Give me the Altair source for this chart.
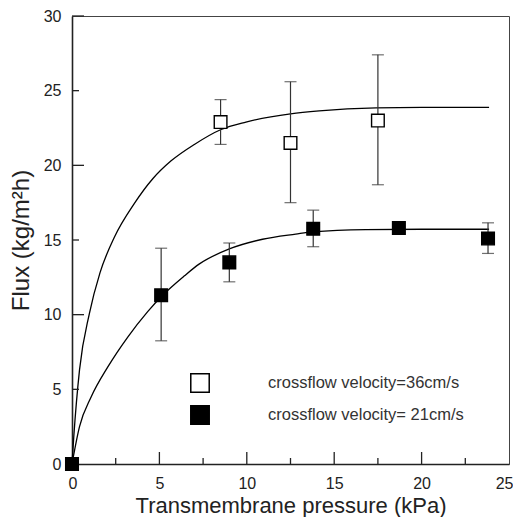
import altair as alt
import pandas as pd

# ---- data ----
open_x = [8.5, 12.5, 17.5]
open_y = [22.9, 21.5, 23.0]
open_lo = [21.4, 17.5, 18.7]
open_hi = [24.4, 25.6, 27.4]

fill_x = [0.0, 5.1, 9.0, 13.8, 18.7, 23.8]
fill_y = [0.0, 11.3, 13.5, 15.75, 15.8, 15.1]
fill_lo = [0.0, 8.25, 12.2, 14.55, 15.5, 14.1]
fill_hi = [0.0, 14.45, 14.8, 17.0, 16.2, 16.15]

upper_x = [0, 0.1, 0.43, 1.0, 1.6, 2.43, 3.57, 4.62, 5.67, 7.0, 8.53, 9.95, 12.5, 14.14, 17.4, 20.0, 23.86]
upper_y = [0, 1.8, 6.3, 10.1, 12.8, 15.2, 17.45, 19.1, 20.3, 21.4, 22.4, 22.9, 23.45, 23.65, 23.85, 23.88, 23.88]

lower_x = [0, 0.43, 1.1, 2.05, 3.19, 4.33, 5.1, 6.43, 7.29, 9.0, 10.9, 12.8, 13.76, 16.8, 20.0, 23.86]
lower_y = [0, 2.5, 4.5, 6.5, 8.5, 10.2, 11.2, 12.6, 13.4, 14.4, 15.05, 15.4, 15.55, 15.7, 15.72, 15.72]

series_labels = ["crossflow velocity=36cm/s", "crossflow velocity= 21cm/s"]

x_ticks = [0, 5, 10, 15, 20, 25]
y_ticks = [0, 5, 10, 15, 20, 25, 30]
x_major_inner = [5, 10, 15, 20]
x_minor_inner = [2.5, 7.5, 12.5, 17.5, 22.5]
y_major_inner = [10, 20, 30]
y_minor_inner = [5, 15, 25]

W, H = 437, 448
FONT = "Liberation Sans"
INK = "#222222"

# ---- tables ----
pts = pd.DataFrame({
    "x": open_x + fill_x,
    "y": open_y + fill_y,
    "lo": open_lo + fill_lo,
    "hi": open_hi + fill_hi,
    "series": [series_labels[0]] * len(open_x) + [series_labels[1]] * len(fill_x),
})
curves = pd.DataFrame({
    "x": upper_x + lower_x,
    "y": upper_y + lower_y,
    "curve": ["upper"] * len(upper_x) + ["lower"] * len(lower_x),
})

xs = alt.Scale(domain=[0, 25], nice=False)
ys = alt.Scale(domain=[0, 30], nice=False)

base_x = alt.X("x:Q", scale=xs, axis=alt.Axis(
    values=x_ticks, title="Transmembrane pressure (kPa)", grid=False, ticks=False,
    labelFontSize=16, labelPadding=11, labelColor=INK, labelFont=FONT,
    labelFlush=True, labelFlushOffset=4,
    titleFontSize=22, titleFontWeight="normal", titleColor=INK, titleFont=FONT,
    titleBaseline="alphabetic", titleY=48,
    domainColor=INK, domainWidth=1.6))
base_y = alt.Y("y:Q", scale=ys, axis=alt.Axis(
    values=y_ticks, title="Flux (kg/m²h)", grid=False, ticks=False,
    labelFontSize=16, labelPadding=11, labelColor=INK, labelFont=FONT,
    titleFontSize=24, titleFontWeight="normal", titleColor=INK, titleFont=FONT,
    titlePadding=10, domainColor=INK, domainWidth=1.6))

lines = alt.Chart(curves).mark_line(color="black", strokeWidth=1.3, interpolate="monotone").encode(
    x=base_x, y=base_y, detail="curve:N")

err = alt.Chart(pts).mark_rule(color="#333333", strokeWidth=1.2).encode(
    x=alt.X("x:Q", scale=xs), y=alt.Y("lo:Q", scale=ys), y2="hi:Q")
cap_lo = alt.Chart(pts).mark_tick(color="#333333", orient="horizontal", size=12, thickness=1.2).encode(
    x=alt.X("x:Q", scale=xs), y=alt.Y("lo:Q", scale=ys))
cap_hi = alt.Chart(pts).mark_tick(color="#333333", orient="horizontal", size=12, thickness=1.2).encode(
    x=alt.X("x:Q", scale=xs), y=alt.Y("hi:Q", scale=ys))

points = alt.Chart(pts).mark_square(size=160, stroke="black", strokeWidth=1.4, opacity=1).encode(
    x=alt.X("x:Q", scale=xs), y=alt.Y("y:Q", scale=ys),
    fill=alt.Fill("series:N", scale=alt.Scale(domain=series_labels, range=["white", "black"]),
                  legend=alt.Legend(title=None, orient="none", legendX=118, legendY=357,
                                    symbolType="square", symbolSize=340,
                                    symbolStrokeColor="black", symbolStrokeWidth=1.5,
                                    symbolOpacity=1, labelLimit=400,
                                    labelFontSize=16.5, labelFont=FONT, labelColor="#333333",
                                    labelOffset=58, rowPadding=6, padding=0)))

xt_major = alt.Chart(pd.DataFrame({"t": x_major_inner})).mark_rule(color=INK, strokeWidth=1.3).encode(
    x=alt.X("t:Q", scale=xs), y=alt.value(H), y2=alt.value(H - 12))
xt_minor = alt.Chart(pd.DataFrame({"t": x_minor_inner})).mark_rule(color=INK, strokeWidth=1.3).encode(
    x=alt.X("t:Q", scale=xs), y=alt.value(H), y2=alt.value(H - 6))
yt_major = alt.Chart(pd.DataFrame({"t": y_major_inner})).mark_rule(color=INK, strokeWidth=1.3).encode(
    y=alt.Y("t:Q", scale=ys), x=alt.value(0), x2=alt.value(12))
yt_minor = alt.Chart(pd.DataFrame({"t": y_minor_inner})).mark_rule(color=INK, strokeWidth=1.3).encode(
    y=alt.Y("t:Q", scale=ys), x=alt.value(0), x2=alt.value(7))

chart = alt.layer(lines, err, cap_lo, cap_hi, points, xt_major, xt_minor, yt_major, yt_minor).properties(
    width=W, height=H,
    autosize=alt.AutoSizeParams(type="none"),
    padding={"left": 64, "top": 8, "right": 4, "bottom": 53},
    background="white",
).configure_view(stroke="#444444", strokeWidth=1)

chart.save("out.html", embed_options={"renderer": "svg", "actions": False})
